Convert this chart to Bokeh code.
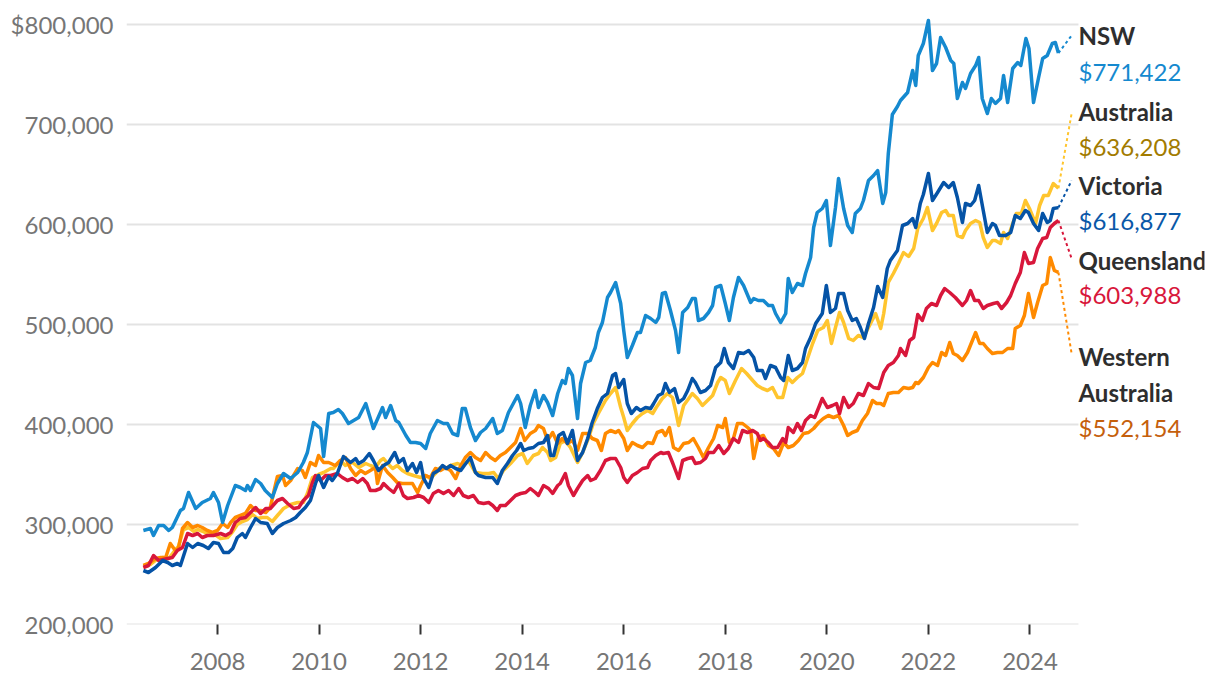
from bokeh.plotting import figure
from bokeh.models import Range1d, FixedTicker, CustomJSTickFormatter
from bokeh.embed import file_html
from bokeh.resources import INLINE
from bokeh.core.properties import value

FONT = "Lato"

# ---- data: (decimal year, median price in $ thousands) ----
nsw = [(2006.54,294),(2006.68,296),(2006.74,289),(2006.84,299),(2006.94,299),(2007.04,294),(2007.11,297),(2007.27,314),(2007.33,316),(2007.43,332),
       (2007.57,316),(2007.70,322),(2007.86,326),(2007.92,332),(2008.02,322),(2008.10,302),(2008.20,319),(2008.35,339),(2008.45,337),(2008.55,334),
       (2008.59,339),(2008.65,334),(2008.75,345),(2008.85,341),(2008.94,334),(2009.08,327),(2009.18,341),(2009.30,351),(2009.44,346),(2009.58,352),
       (2009.69,362),(2009.77,372),(2009.89,402),(2010.03,396),(2010.09,368),(2010.19,411),(2010.28,412),(2010.38,415),(2010.46,411),(2010.58,401),
       (2010.68,404),(2010.78,407),(2010.92,421),(2011.07,396),(2011.25,417),(2011.31,407),(2011.41,419),(2011.51,404),(2011.57,402),(2011.71,389),
       (2011.80,382),(2011.90,382),(2012.00,381),(2012.10,376),(2012.19,391),(2012.33,404),(2012.45,401),(2012.53,401),(2012.63,391),(2012.73,389),
       (2012.82,416),(2012.88,416),(2012.98,397),(2013.08,384),(2013.18,392),(2013.28,396),(2013.42,406),(2013.51,391),(2013.61,394),(2013.73,412),
       (2013.91,429),(2013.97,421),(2014.06,397),(2014.16,419),(2014.26,434),(2014.32,417),(2014.42,429),(2014.50,422),(2014.60,409),(2014.70,431),
       (2014.79,444),(2014.85,441),(2014.91,456),(2014.99,449),(2015.09,406),(2015.15,441),(2015.25,462),(2015.34,464),(2015.44,477),(2015.50,492),
       (2015.58,502),(2015.68,527),(2015.74,532),(2015.84,542),(2015.94,521),(2016.00,494),(2016.07,467),(2016.17,479),(2016.27,492),(2016.33,492),
       (2016.43,509),(2016.53,506),(2016.63,502),(2016.69,507),(2016.76,531),(2016.82,532),(2016.92,514),(2017.02,494),(2017.08,472),(2017.16,512),
       (2017.26,517),(2017.35,526),(2017.41,526),(2017.47,504),(2017.57,506),(2017.67,512),(2017.75,519),(2017.81,537),(2017.91,539),(2018.00,521),
       (2018.08,504),(2018.16,527),(2018.26,547),(2018.36,539),(2018.50,522),(2018.56,526),(2018.65,524),(2018.75,524),(2018.85,519),(2018.93,519),
       (2018.99,511),(2019.09,502),(2019.19,511),(2019.24,546),(2019.32,532),(2019.42,541),(2019.52,539),(2019.58,551),(2019.68,567),(2019.74,597),
       (2019.81,612),(2019.91,616),(2019.99,624),(2020.07,579),(2020.17,617),(2020.23,646),(2020.33,616),(2020.41,599),(2020.50,592),(2020.56,611),
       (2020.66,616),(2020.72,624),(2020.82,644),(2020.92,649),(2021.00,654),(2021.10,621),(2021.16,632),(2021.21,671),(2021.29,710),(2021.39,718),
       (2021.45,724),(2021.59,732),(2021.69,754),(2021.75,739),(2021.80,769),(2021.90,781),(2022.00,804),(2022.08,754),(2022.16,761),(2022.24,787),
       (2022.34,777),(2022.44,764),(2022.50,761),(2022.57,726),(2022.67,742),(2022.73,736),(2022.83,751),(2022.93,759),(2022.99,767),(2023.06,726),
       (2023.16,711),(2023.24,726),(2023.32,721),(2023.42,726),(2023.48,749),(2023.56,722),(2023.66,756),(2023.76,762),(2023.82,759),(2023.92,786),
       (2023.98,776),(2024.07,722),(2024.17,747),(2024.25,766),(2024.34,769),(2024.44,781),(2024.50,782),(2024.56,771.422)]

victoria = [(2006.54,254),(2006.64,252),(2006.78,257),(2006.92,264),(2007.02,262),(2007.11,259),(2007.21,261),(2007.27,259),(2007.41,281),(2007.51,277),
            (2007.61,281),(2007.72,279),(2007.82,276),(2007.92,282),(2008.02,281),(2008.12,272),(2008.22,272),(2008.30,276),(2008.39,287),(2008.49,291),
            (2008.55,287),(2008.65,297),(2008.75,306),(2008.85,302),(2008.98,301),(2009.08,291),(2009.18,297),(2009.30,301),(2009.44,304),(2009.54,307),
            (2009.63,312),(2009.73,317),(2009.83,324),(2009.93,341),(2009.99,349),(2010.09,337),(2010.19,348),(2010.26,344),(2010.36,351),(2010.48,368),
            (2010.62,362),(2010.72,366),(2010.78,361),(2010.88,364),(2010.99,371),(2011.07,364),(2011.17,354),(2011.27,359),(2011.37,362),(2011.49,372),
            (2011.57,362),(2011.66,366),(2011.74,354),(2011.84,361),(2011.92,352),(2012.00,362),(2012.06,346),(2012.16,337),(2012.25,351),(2012.35,354),
            (2012.43,359),(2012.51,356),(2012.59,359),(2012.69,356),(2012.79,354),(2012.86,359),(2012.98,367),(2013.08,352),(2013.14,349),(2013.28,347),
            (2013.42,347),(2013.51,341),(2013.61,354),(2013.71,361),(2013.81,369),(2013.89,374),(2013.97,381),(2014.03,374),(2014.12,376),(2014.22,377),
            (2014.32,381),(2014.42,382),(2014.50,389),(2014.56,369),(2014.62,369),(2014.72,389),(2014.81,392),(2014.89,381),(2014.99,394),(2015.09,364),
            (2015.19,372),(2015.29,386),(2015.38,402),(2015.48,416),(2015.58,427),(2015.68,431),(2015.78,449),(2015.84,451),(2015.90,437),(2016.00,445),
            (2016.07,421),(2016.15,411),(2016.25,417),(2016.33,414),(2016.43,417),(2016.53,416),(2016.59,421),(2016.68,429),(2016.76,431),(2016.82,441),
            (2016.90,432),(2017.00,436),(2017.08,422),(2017.18,426),(2017.26,434),(2017.35,446),(2017.41,442),(2017.51,432),(2017.61,434),(2017.71,439),
            (2017.81,457),(2017.91,462),(2017.98,476),(2018.06,462),(2018.16,456),(2018.26,472),(2018.36,471),(2018.46,474),(2018.56,467),(2018.63,454),
            (2018.73,454),(2018.79,446),(2018.89,459),(2018.99,457),(2019.09,447),(2019.15,444),(2019.24,469),(2019.32,454),(2019.42,456),(2019.52,462),
            (2019.58,476),(2019.68,487),(2019.78,501),(2019.91,511),(2019.99,539),(2020.07,512),(2020.17,516),(2020.23,531),(2020.33,531),(2020.41,514),
            (2020.50,504),(2020.58,506),(2020.66,497),(2020.74,486),(2020.82,501),(2020.92,517),(2021.00,538),(2021.10,527),(2021.19,556),(2021.25,564),
            (2021.39,574),(2021.49,599),(2021.59,601),(2021.69,606),(2021.75,597),(2021.84,621),(2021.90,630),(2022.00,651),(2022.08,624),(2022.18,632),
            (2022.30,642),(2022.40,637),(2022.49,642),(2022.57,627),(2022.67,602),(2022.73,621),(2022.83,619),(2022.91,624),(2022.99,639),(2023.08,614),
            (2023.16,592),(2023.26,601),(2023.32,599),(2023.40,589),(2023.52,589),(2023.62,592),(2023.71,609),(2023.81,606),(2023.91,614),(2023.97,612),
            (2024.07,601),(2024.17,594),(2024.25,611),(2024.34,602),(2024.40,604),(2024.46,616),(2024.56,616.877)]

australia = [(2006.54,257),(2006.68,260),(2006.78,264),(2006.92,267),(2007.04,266),(2007.13,272),(2007.23,278),(2007.33,295),(2007.43,297),(2007.53,293),
             (2007.61,295),(2007.72,293),(2007.82,290),(2007.92,291),(2008.06,286),(2008.20,287),(2008.30,293),(2008.39,300),(2008.49,303),(2008.59,305),
             (2008.69,310),(2008.79,306),(2008.88,307),(2008.98,307),(2009.08,303),(2009.18,309),(2009.30,316),(2009.44,320),(2009.58,322),(2009.69,322),
             (2009.77,331),(2009.87,347),(2009.99,350),(2010.09,352),(2010.23,356),(2010.28,356),(2010.42,364),(2010.52,359),(2010.66,362),(2010.78,357),
             (2010.92,361),(2011.01,359),(2011.11,357),(2011.21,364),(2011.27,366),(2011.35,361),(2011.45,356),(2011.54,359),(2011.64,354),(2011.74,351),
             (2011.86,349),(2012.00,347),(2012.10,349),(2012.19,346),(2012.29,351),(2012.39,357),(2012.49,356),(2012.59,359),(2012.73,361),(2012.82,359),
             (2012.94,364),(2013.08,352),(2013.22,351),(2013.34,351),(2013.44,352),(2013.53,346),(2013.63,354),(2013.77,361),(2013.91,369),(2014.01,371),
             (2014.10,361),(2014.22,369),(2014.32,371),(2014.40,377),(2014.50,372),(2014.56,364),(2014.66,367),(2014.75,381),(2014.85,384),(2014.95,377),
             (2015.09,362),(2015.19,372),(2015.31,387),(2015.40,401),(2015.50,411),(2015.64,424),(2015.74,431),(2015.84,437),(2015.94,417),(2016.00,407),
             (2016.07,394),(2016.17,401),(2016.27,407),(2016.37,411),(2016.47,414),(2016.57,411),(2016.64,417),(2016.76,426),(2016.86,431),(2016.96,427),
             (2017.02,414),(2017.08,399),(2017.18,419),(2017.28,426),(2017.35,431),(2017.45,426),(2017.55,419),(2017.65,424),(2017.75,429),(2017.85,442),
             (2017.91,447),(2018.00,444),(2018.08,431),(2018.20,444),(2018.32,456),(2018.42,451),(2018.54,444),(2018.63,439),(2018.73,436),(2018.83,434),
             (2018.93,437),(2019.03,427),(2019.13,427),(2019.23,447),(2019.32,442),(2019.42,447),(2019.52,451),(2019.62,466),(2019.72,481),(2019.82,494),
             (2019.93,497),(2020.01,504),(2020.09,481),(2020.17,497),(2020.25,512),(2020.33,502),(2020.43,486),(2020.52,484),(2020.62,489),(2020.72,487),
             (2020.82,497),(2020.96,511),(2021.06,496),(2021.12,511),(2021.21,542),(2021.31,551),(2021.41,561),(2021.51,572),(2021.61,568),(2021.71,576),
             (2021.79,596),(2021.90,606),(2021.98,617),(2022.08,594),(2022.16,601),(2022.26,612),(2022.34,614),(2022.40,609),(2022.49,609),(2022.57,589),
             (2022.67,587),(2022.73,594),(2022.83,601),(2022.93,604),(2023.01,602),(2023.08,587),(2023.16,577),(2023.26,584),(2023.32,584),(2023.42,581),
             (2023.48,592),(2023.56,586),(2023.66,601),(2023.73,611),(2023.83,611),(2023.91,624),(2023.99,616),(2024.11,601),(2024.19,619),(2024.27,629),
             (2024.36,629),(2024.46,641),(2024.56,636.208)]

queensland = [(2006.54,257),(2006.64,259),(2006.74,269),(2006.84,264),(2007.02,266),(2007.11,267),(2007.21,274),(2007.31,277),(2007.41,291),(2007.51,289),
              (2007.61,291),(2007.70,287),(2007.80,289),(2007.92,289),(2008.06,291),(2008.16,289),(2008.26,292),(2008.35,302),(2008.45,306),(2008.55,307),
              (2008.65,312),(2008.75,317),(2008.85,311),(2008.95,316),(2009.04,316),(2009.18,324),(2009.28,326),(2009.38,321),(2009.50,316),(2009.60,317),
              (2009.69,324),(2009.79,329),(2009.87,342),(2009.93,349),(2010.03,344),(2010.13,349),(2010.23,349),(2010.36,351),(2010.46,347),(2010.56,344),
              (2010.66,346),(2010.76,342),(2010.86,346),(2010.95,341),(2011.01,334),(2011.11,334),(2011.21,336),(2011.27,341),(2011.37,336),(2011.47,332),
              (2011.57,341),(2011.66,329),(2011.74,326),(2011.86,327),(2011.96,329),(2012.06,327),(2012.16,322),(2012.25,331),(2012.35,334),(2012.45,331),
              (2012.55,334),(2012.65,329),(2012.75,336),(2012.84,329),(2012.94,327),(2013.04,329),(2013.14,322),(2013.24,321),(2013.34,322),(2013.42,319),
              (2013.51,314),(2013.57,319),(2013.67,319),(2013.77,324),(2013.87,329),(2013.97,331),(2014.07,332),(2014.16,336),(2014.26,332),(2014.32,329),
              (2014.42,339),(2014.52,336),(2014.60,331),(2014.70,339),(2014.75,341),(2014.85,351),(2014.91,339),(2015.01,329),(2015.09,336),(2015.19,344),
              (2015.29,349),(2015.35,344),(2015.44,346),(2015.54,354),(2015.64,364),(2015.74,366),(2015.84,366),(2015.94,357),(2016.00,347),(2016.07,342),
              (2016.17,349),(2016.27,352),(2016.37,356),(2016.47,357),(2016.53,364),(2016.63,369),(2016.73,372),(2016.78,371),(2016.88,372),(2016.96,362),
              (2017.02,354),(2017.08,346),(2017.16,364),(2017.26,366),(2017.35,367),(2017.41,361),(2017.51,362),(2017.61,366),(2017.67,372),(2017.77,372),
              (2017.87,379),(2017.97,371),(2018.06,376),(2018.16,386),(2018.26,382),(2018.34,394),(2018.44,392),(2018.54,394),(2018.63,391),(2018.69,384),
              (2018.75,386),(2018.85,382),(2018.93,377),(2019.03,377),(2019.13,386),(2019.19,382),(2019.24,397),(2019.34,392),(2019.42,401),(2019.50,394),
              (2019.58,404),(2019.68,409),(2019.76,407),(2019.84,417),(2019.91,426),(2020.01,417),(2020.11,419),(2020.19,421),(2020.25,411),(2020.33,427),
              (2020.43,417),(2020.52,421),(2020.62,431),(2020.72,429),(2020.82,441),(2020.92,437),(2021.02,436),(2021.12,452),(2021.21,459),(2021.31,462),
              (2021.41,469),(2021.45,476),(2021.55,469),(2021.63,484),(2021.71,487),(2021.79,510),(2021.88,504),(2021.96,516),(2022.06,521),(2022.16,519),
              (2022.24,529),(2022.32,536),(2022.42,532),(2022.53,527),(2022.67,519),(2022.75,524),(2022.83,534),(2022.91,524),(2022.99,524),(2023.08,516),
              (2023.16,519),(2023.28,521),(2023.36,522),(2023.44,516),(2023.54,522),(2023.62,529),(2023.71,541),(2023.81,552),(2023.89,572),(2023.97,561),
              (2024.07,562),(2024.15,576),(2024.25,586),(2024.33,587),(2024.40,597),(2024.48,601),(2024.56,603.988)]

western_australia = [(2006.54,259),(2006.64,261),(2006.78,266),(2006.88,267),(2006.98,267),(2007.07,281),(2007.17,274),(2007.23,276),(2007.31,296),(2007.41,302),
                     (2007.51,297),(2007.61,299),(2007.70,297),(2007.80,294),(2007.90,292),(2008.00,294),(2008.10,301),(2008.20,297),(2008.26,302),(2008.35,307),
                     (2008.45,309),(2008.55,311),(2008.65,319),(2008.75,314),(2008.85,314),(2008.95,312),(2009.04,317),(2009.12,335),(2009.18,348),(2009.28,349),
                     (2009.34,339),(2009.44,344),(2009.58,356),(2009.67,354),(2009.73,347),(2009.83,362),(2009.93,359),(2009.99,369),(2010.09,362),(2010.19,362),
                     (2010.32,359),(2010.42,364),(2010.52,367),(2010.62,356),(2010.72,349),(2010.82,354),(2010.91,351),(2011.01,354),(2011.11,357),(2011.15,341),
                     (2011.25,359),(2011.35,352),(2011.45,347),(2011.54,342),(2011.64,341),(2011.74,341),(2011.84,341),(2011.94,332),(2012.00,339),(2012.10,349),
                     (2012.19,347),(2012.29,356),(2012.39,354),(2012.49,357),(2012.59,354),(2012.69,346),(2012.79,359),(2012.88,367),(2012.98,372),(2013.08,367),
                     (2013.18,364),(2013.28,372),(2013.38,367),(2013.47,364),(2013.57,369),(2013.67,372),(2013.77,377),(2013.87,382),(2013.97,396),(2014.05,384),
                     (2014.16,391),(2014.26,394),(2014.32,399),(2014.42,396),(2014.50,384),(2014.60,392),(2014.70,381),(2014.79,386),(2014.89,381),(2014.99,384),
                     (2015.09,374),(2015.19,391),(2015.29,391),(2015.38,386),(2015.48,384),(2015.56,374),(2015.64,391),(2015.74,394),(2015.84,392),(2015.90,394),
                     (2016.00,386),(2016.07,374),(2016.17,382),(2016.27,379),(2016.37,377),(2016.47,382),(2016.57,381),(2016.66,392),(2016.76,394),(2016.82,389),
                     (2016.90,397),(2016.98,377),(2017.08,374),(2017.18,381),(2017.28,382),(2017.37,386),(2017.47,377),(2017.57,367),(2017.67,377),(2017.77,386),
                     (2017.85,399),(2017.95,397),(2018.00,406),(2018.08,382),(2018.16,386),(2018.24,401),(2018.34,401),(2018.44,397),(2018.50,394),(2018.56,366),
                     (2018.65,387),(2018.75,389),(2018.85,379),(2018.95,376),(2019.05,369),(2019.15,382),(2019.24,377),(2019.34,379),(2019.44,384),(2019.54,391),
                     (2019.64,392),(2019.74,396),(2019.84,402),(2019.93,406),(2020.03,409),(2020.13,407),(2020.23,409),(2020.33,399),(2020.41,389),(2020.50,392),
                     (2020.60,394),(2020.70,404),(2020.80,411),(2020.90,424),(2020.98,421),(2021.06,421),(2021.12,419),(2021.21,431),(2021.31,432),(2021.41,432),
                     (2021.51,437),(2021.61,436),(2021.69,437),(2021.75,442),(2021.80,441),(2021.90,447),(2022.00,457),(2022.08,462),(2022.18,459),(2022.26,472),
                     (2022.34,469),(2022.42,482),(2022.49,471),(2022.57,469),(2022.67,464),(2022.77,472),(2022.85,482),(2022.93,492),(2023.01,481),(2023.08,481),
                     (2023.16,476),(2023.26,471),(2023.36,472),(2023.46,472),(2023.56,476),(2023.66,476),(2023.71,496),(2023.81,499),(2023.89,509),(2023.97,531),
                     (2024.07,507),(2024.15,522),(2024.25,539),(2024.33,541),(2024.40,567),(2024.48,554),(2024.56,552.154)]

series_names = ["Australia", "Western Australia", "Queensland", "Victoria", "NSW"]
series_data = [australia, western_australia, queensland, victoria, nsw]
line_colors = ["#FFC52E", "#FF8A00", "#D8173B", "#0553A6", "#1589CF"]
value_colors = ["#A27B00", "#C5600C", "#D8173B", "#0A58A8", "#1589CF"]

y_ticks = [200000, 300000, 400000, 500000, 600000, 700000, 800000]
x_ticks = [2008, 2010, 2012, 2014, 2016, 2018, 2020, 2022, 2024]

# ---- layout (label placement, in data units) ----
X_START, X_END = 2006.208, 2027.437
GRID_END = 2024.955
LEADER_X = 2024.82
label_name_lines = {"NSW": ["NSW"], "Australia": ["Australia"], "Victoria": ["Victoria"],
                    "Queensland": ["Queensland"], "Western Australia": ["Western", "Australia"]}
label_name_y = {"NSW": [789000], "Australia": [713500], "Victoria": [639000],
                "Queensland": [564000], "Western Australia": [468000, 432000]}
label_value_y = {"NSW": 753000, "Australia": 678000, "Victoria": 604000,
                 "Queensland": 530000, "Western Australia": 397000}
leader_end_y = {"NSW": 789000, "Australia": 711000, "Victoria": 644000,
                "Queensland": 566000, "Western Australia": 471000}

p = figure(width=1212, height=680,
           x_range=Range1d(X_START, X_END), y_range=Range1d(200000, 814000),
           output_backend="svg", toolbar_location=None,
           min_border_left=126, min_border_right=8, min_border_top=10, min_border_bottom=56)
p.outline_line_color = None
p.xgrid.visible = False
p.ygrid.visible = False
p.background_fill_color = "white"
p.border_fill_color = "white"

# gridlines limited to the data area
p.segment(x0=[X_START] * len(y_ticks), y0=y_ticks, x1=[GRID_END] * len(y_ticks), y1=y_ticks,
          line_color="#E3E3E3", line_width=2)

# axes
p.xaxis.ticker = FixedTicker(ticks=x_ticks)
p.xaxis.axis_line_color = None
p.xaxis.major_tick_line_color = "#333333"
p.xaxis.major_tick_line_width = 2
p.xaxis.major_tick_in = 0
p.xaxis.major_tick_out = 10
p.xaxis.minor_tick_line_color = None
p.xaxis.major_label_standoff = 18
p.xaxis.major_label_text_font = FONT
p.xaxis.major_label_text_font_size = "24px"
p.xaxis.major_label_text_color = "#767676"

p.yaxis.ticker = FixedTicker(ticks=y_ticks)
p.yaxis.formatter = CustomJSTickFormatter(code="""
    const s = Math.round(tick).toString().replace(/\\B(?=(\\d{3})+(?!\\d))/g, ',');
    return (tick >= 800000 ? '$' : '') + s;
""")
p.yaxis.axis_line_color = None
p.yaxis.major_tick_line_color = None
p.yaxis.minor_tick_line_color = None
p.yaxis.major_tick_in = 0
p.yaxis.major_tick_out = 0
p.yaxis.major_label_standoff = 13
p.yaxis.major_label_text_font = FONT
p.yaxis.major_label_text_font_size = "24px"
p.yaxis.major_label_text_color = "#767676"

for name, data, lc, vc in zip(series_names, series_data, line_colors, value_colors):
    xs = [d for d, v in data]
    ys = [v * 1000 for d, v in data]
    p.line(xs, ys, line_color=lc, line_width=3.5, line_join="round")
    # dotted leader to the label
    p.segment(x0=[xs[-1]], y0=[ys[-1]], x1=[LEADER_X], y1=[leader_end_y[name]],
              line_color=lc, line_width=2, line_dash="3 3")
    # name label (bold) and value label
    p.text(x=[GRID_END] * len(label_name_lines[name]), y=label_name_y[name], text=label_name_lines[name],
           text_font=value(FONT), text_font_style="bold", text_font_size="24px",
           text_color="#2E2E2E", text_baseline="middle", text_align="left")
    p.text(x=[GRID_END], y=[label_value_y[name]], text=["${:,.0f}".format(ys[-1])],
           text_font=value(FONT), text_font_size="24px",
           text_color=vc, text_baseline="middle", text_align="left")

open("out.html", "w").write(file_html(p, INLINE))
